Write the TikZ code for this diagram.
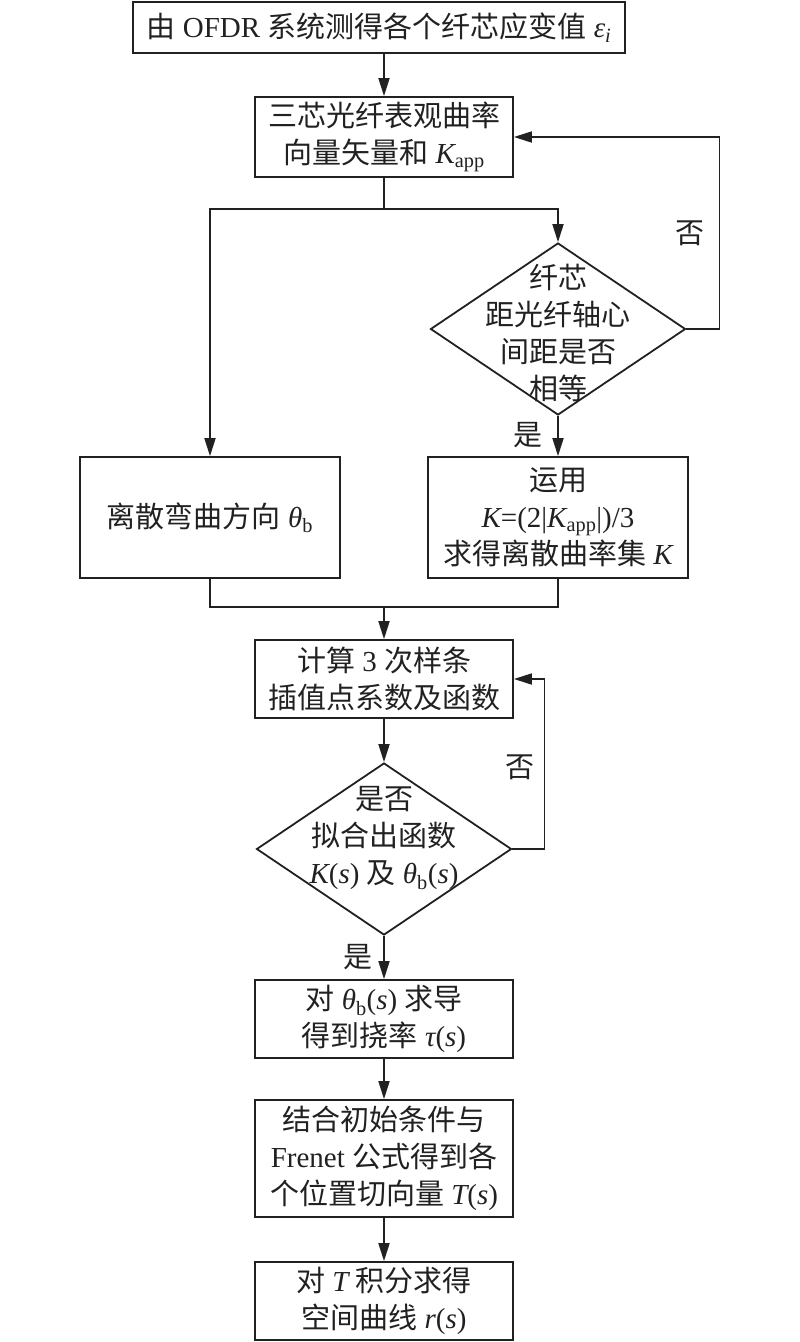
\documentclass[tikz,border=0pt]{standalone}
\usepackage{fontspec}
\setmainfont{Liberation Serif}
\newfontfamily\cjk{Noto Sans CJK SC}
\usetikzlibrary{shapes.geometric,arrows.meta}
\newcommand{\latn}[1]{{\rmfamily #1}}
\newcommand{\vi}[1]{{\rmfamily\itshape #1}}
\newcommand{\sbs}[1]{{\rmfamily\textsubscript{#1}}}
\definecolor{ink}{gray}{0.13}
\tikzset{
  every node/.style={font=\fontsize{29}{37}\selectfont\cjk, text=ink},
  box/.style={draw=ink, line width=1.8pt, rectangle, inner sep=0pt, minimum width=258pt, align=center},
  dia/.style={draw=ink, line width=1.8pt, diamond, inner sep=0pt, minimum width=255pt, minimum height=172pt},
  txt/.style={inner sep=0pt, align=center},
  conn/.style={draw=ink, line width=1.8pt},
  arr/.style={conn, -{Triangle[length=18pt,width=11pt]}}
}
\begin{document}
\begin{tikzpicture}[x=1pt,y=-1pt]
\useasboundingbox (0,0) rectangle (800,1342);
% nodes
\node[box, minimum width=492pt, minimum height=51pt] (top) at (379,27.5) {由\latn{ OFDR }系统测得各个纤芯应变值\latn{ }\vi{ε\textsubscript{i}}};
\node[box, minimum height=80pt] (b2) at (384,137) {三芯光纤表观曲率\\向量矢量和\latn{ }\vi{K}\sbs{app}};
\node[dia] (d1) at (558,329) {};
\node[txt] (d1t) at (558,333) {纤芯\\距光纤轴心\\间距是否\\相等};
\node[box, minimum width=260pt, minimum height=121pt] (L) at (210,517.5) {离散弯曲方向\latn{ }\vi{θ}\sbs{b}};
\node[box, minimum width=260pt, minimum height=121pt] (R) at (558,517.5) {运用\\\vi{K}\latn{=(2|}\vi{K}\sbs{app}\latn{|)/3}\\求得离散曲率集\latn{ }\vi{K}};
\node[box, minimum height=78pt] (S) at (384,679) {计算\latn{ 3 }次样条\\插值点系数及函数};
\node[dia] (d2) at (384,849) {};
\node[txt] (d2t) at (384,838) {是否\\拟合出函数\\\vi{K}\latn{(}\vi{s}\latn{) }及\latn{ }\vi{θ}\sbs{b}\latn{(}\vi{s}\latn{)}};
\node[box, minimum height=78pt] (B1) at (384,1019) {对\latn{ }\vi{θ}\sbs{b}\latn{(}\vi{s}\latn{) }求导\\得到挠率\latn{ }\vi{τ}\latn{(}\vi{s}\latn{)}};
\node[box, minimum height=117pt] (B2) at (384,1158.5) {结合初始条件与\\\latn{Frenet }公式得到各\\个位置切向量\latn{ }\vi{T}\latn{(}\vi{s}\latn{)}};
\node[box, minimum height=78pt] (B3) at (384,1301) {对\latn{ }\vi{T}\latn{ }积分求得\\空间曲线\latn{ }\vi{r}\latn{(}\vi{s}\latn{)}};
% labels
\node[txt] (no1) at (690,233) {否};
\node[txt] (yes1) at (528,435) {是};
\node[txt] (no2) at (520,767) {否};
\node[txt] (yes2) at (358,957) {是};
% coordinates
\coordinate (split) at (384,209);
\coordinate (merge) at (384,607);
% connectors
\draw[arr] (top.south -| b2.north) -- (b2.north);
\draw[conn] (b2.south) -- (split);
\draw[arr] (split) -| (L.north);
\draw[arr] (split) -| (d1.north);
\draw[arr] (d1.south) -- (R.north);
\draw[arr] (d1.east) -- ++(33,0) |- (b2.east);
\draw[conn] (L.south) |- (merge) -| (R.south);
\draw[arr] (merge) -- (S.north);
\draw[arr] (S.south) -- (d2.north);
\draw[arr] (d2.east) -- ++(32,0) |- (S.east);
\draw[arr] (d2.south) -- (B1.north);
\draw[arr] (B1.south) -- (B2.north);
\draw[arr] (B2.south) -- (B3.north);
\end{tikzpicture}
\end{document}
